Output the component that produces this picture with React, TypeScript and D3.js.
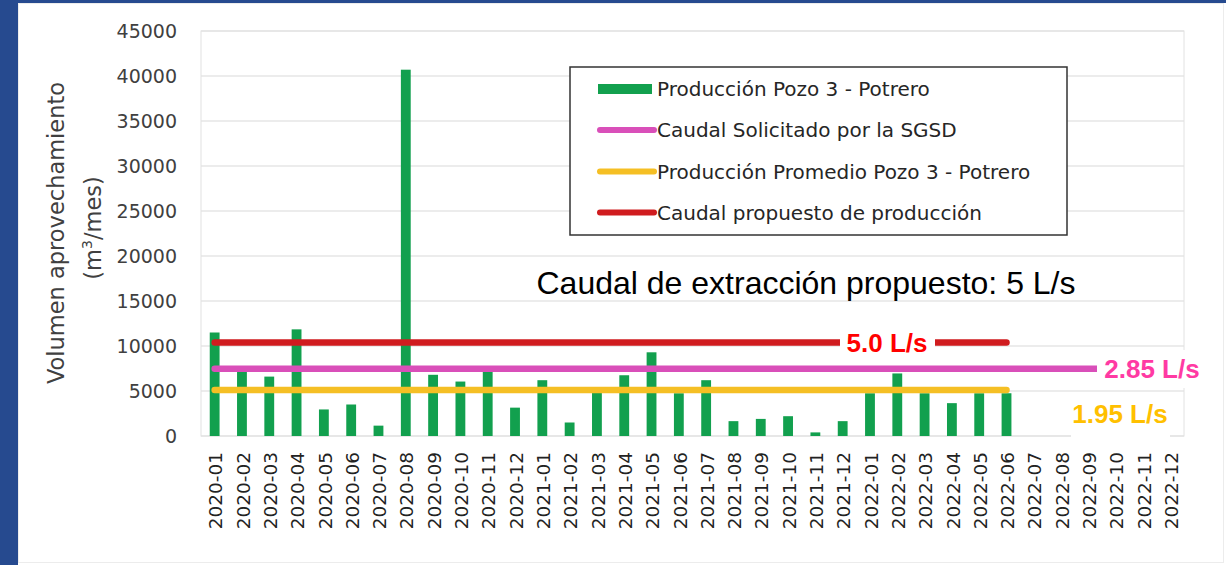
import { scaleBand, scaleLinear } from 'd3';

const months = [
  '2020-01', '2020-02', '2020-03', '2020-04', '2020-05', '2020-06',
  '2020-07', '2020-08', '2020-09', '2020-10', '2020-11', '2020-12',
  '2021-01', '2021-02', '2021-03', '2021-04', '2021-05', '2021-06',
  '2021-07', '2021-08', '2021-09', '2021-10', '2021-11', '2021-12',
  '2022-01', '2022-02', '2022-03', '2022-04', '2022-05', '2022-06',
  '2022-07', '2022-08', '2022-09', '2022-10', '2022-11', '2022-12',
];

// m3/mes (2022-07 onward has no data)
const production = [
  11500, 7150, 6600, 11850, 2950, 3500, 1150, 40700, 6800, 6050, 7200, 3150,
  6200, 1500, 4850, 6750, 9300, 4750, 6200, 1650, 1900, 2200, 400, 1650,
  4750, 6950, 4750, 3650, 4750, 4750,
];

const yTicks = [0, 5000, 10000, 15000, 20000, 25000, 30000, 35000, 40000, 45000];

const proposedFlow = 10400; // 5.0 L/s line
const requestedFlow = 7480; // 2.85 L/s (SGSD)
const averageFlow = 5120; // 1.95 L/s promedio

const seriesNames = [
  'Producción Pozo 3 - Potrero',
  'Caudal Solicitado por la SGSD',
  'Producción Promedio Pozo 3 - Potrero',
  'Caudal propuesto de producción',
];

const GREEN = '#12a04e';
const PINK = '#d94fb9';
const YELLOW = '#f5bf24';
const RED = '#d01c1f';

export default function App() {
  const width = 1226;
  const height = 565;
  const plot = { left: 201, right: 1184, top: 31, bottom: 436 };

  const x = scaleBand<string>().domain(months).range([plot.left, plot.right]).paddingInner(0.64).paddingOuter(0.32);
  const y = scaleLinear().domain([0, 45000]).range([plot.bottom, plot.top]);
  const cx = (i: number) => (x(months[i]) ?? 0) + x.bandwidth() / 2;

  const lastData = production.length - 1;
  const refLines = [
    { value: proposedFlow, color: RED, end: lastData },
    { value: requestedFlow, color: PINK, end: months.length - 1 },
    { value: averageFlow, color: YELLOW, end: lastData },
  ];

  const legendX = 598;
  const legendRows = [89, 130, 171.5, 212.5];
  const legendColors = [GREEN, PINK, YELLOW, RED];

  return (
    <svg width={width} height={height} style={{ position: 'absolute', left: 0, top: 0, background: '#fff' }}>
      {/* blue slide frame */}
      <rect x={0} y={0} width={width} height={3} fill="#264a8f" />
      <rect x={0} y={0} width={18} height={height} fill="#264a8f" />
      <rect x={18.5} y={3.5} width={width - 21} height={height - 6} fill="none" stroke="#ececec" />

      {/* grid + plot border */}
      {yTicks.map((t) => (
        <line key={t} x1={plot.left} x2={plot.right} y1={y(t)} y2={y(t)} stroke="#d9d9d9" strokeWidth={1} />
      ))}
      <rect x={plot.left} y={plot.top} width={plot.right - plot.left} height={plot.bottom - plot.top} fill="none" stroke="#e2e2e2" />

      {/* y tick labels */}
      {yTicks.map((t) => (
        <text key={t} x={177} y={y(t)} dy="0.36em" textAnchor="end" fontFamily="DejaVu Sans" fontSize={19} fill="#404040">
          {t}
        </text>
      ))}

      {/* y axis title */}
      <g fontFamily="DejaVu Sans" fontSize={22.5} fill="#404040" textAnchor="middle">
        <text transform={`translate(56,233) rotate(-90)`} dy="0.35em">Volumen aprovechamiento</text>
        <text transform={`translate(93,228) rotate(-90)`} dy="0.35em">
          (m<tspan fontSize={14} dy="-0.6em">3</tspan><tspan dy="0.37em">/mes)</tspan>
        </text>
      </g>

      {/* bars */}
      {production.map((v, i) => (
        <rect key={months[i]} x={x(months[i])} y={y(v)} width={x.bandwidth()} height={y(0) - y(v)} fill={GREEN} />
      ))}

      {/* reference lines */}
      {refLines.map((l) => (
        <line key={l.color} x1={cx(0)} x2={cx(l.end)} y1={y(l.value)} y2={y(l.value)} stroke={l.color} strokeWidth={6.5} strokeLinecap="round" />
      ))}

      {/* x tick labels */}
      {months.map((m, i) => (
        <text key={m} transform={`translate(${cx(i) + 1},452) rotate(-90)`} dy="0.36em" textAnchor="end" fontFamily="DejaVu Sans" fontSize={18.5} fill="#222">
          {m}
        </text>
      ))}

      {/* legend */}
      <rect x={570} y={67} width={497} height={168} fill="#fff" stroke="#333" strokeWidth={1.5} />
      {seriesNames.map((name, i) =>
        <g key={name}>
          {i === 0 ? (
            <rect x={legendX} y={legendRows[i] - 5} width={54} height={10} fill={legendColors[i]} />
          ) : (
            <line x1={legendX + 2} x2={legendX + 56} y1={legendRows[i]} y2={legendRows[i]} stroke={legendColors[i]} strokeWidth={6} strokeLinecap="round" />
          )}
          <text x={657} y={legendRows[i]} dy="0.36em" fontFamily="DejaVu Sans" fontSize={20} fill="#262626">
            {name}
          </text>
        </g>
      )}

      {/* annotations */}
      <text x={806} y={282} dy="0.36em" textAnchor="middle" fontFamily="Liberation Sans" fontSize={32} fill="#000">
        Caudal de extracción propuesto: 5 L/s
      </text>

      <rect x={840} y={327} width={95} height={37} fill="#fff" />
      <text x={887} y={y(proposedFlow)} dy="0.36em" textAnchor="middle" fontFamily="Liberation Sans" fontWeight="bold" fontSize={26} fill="#ff0000">
        5.0 L/s
      </text>

      <rect x={1097} y={350} width={108} height={38} fill="#fff" />
      <text x={1152} y={y(requestedFlow)} dy="0.36em" textAnchor="middle" fontFamily="Liberation Sans" fontWeight="bold" fontSize={26} fill="#ff3aa3">
        2.85 L/s
      </text>

      <rect x={1071} y={397} width={99} height={41} fill="#fff" />
      <text x={1120} y={414} dy="0.36em" textAnchor="middle" fontFamily="Liberation Sans" fontWeight="bold" fontSize={26} fill="#ffc000">
        1.95 L/s
      </text>
    </svg>
  );
}
